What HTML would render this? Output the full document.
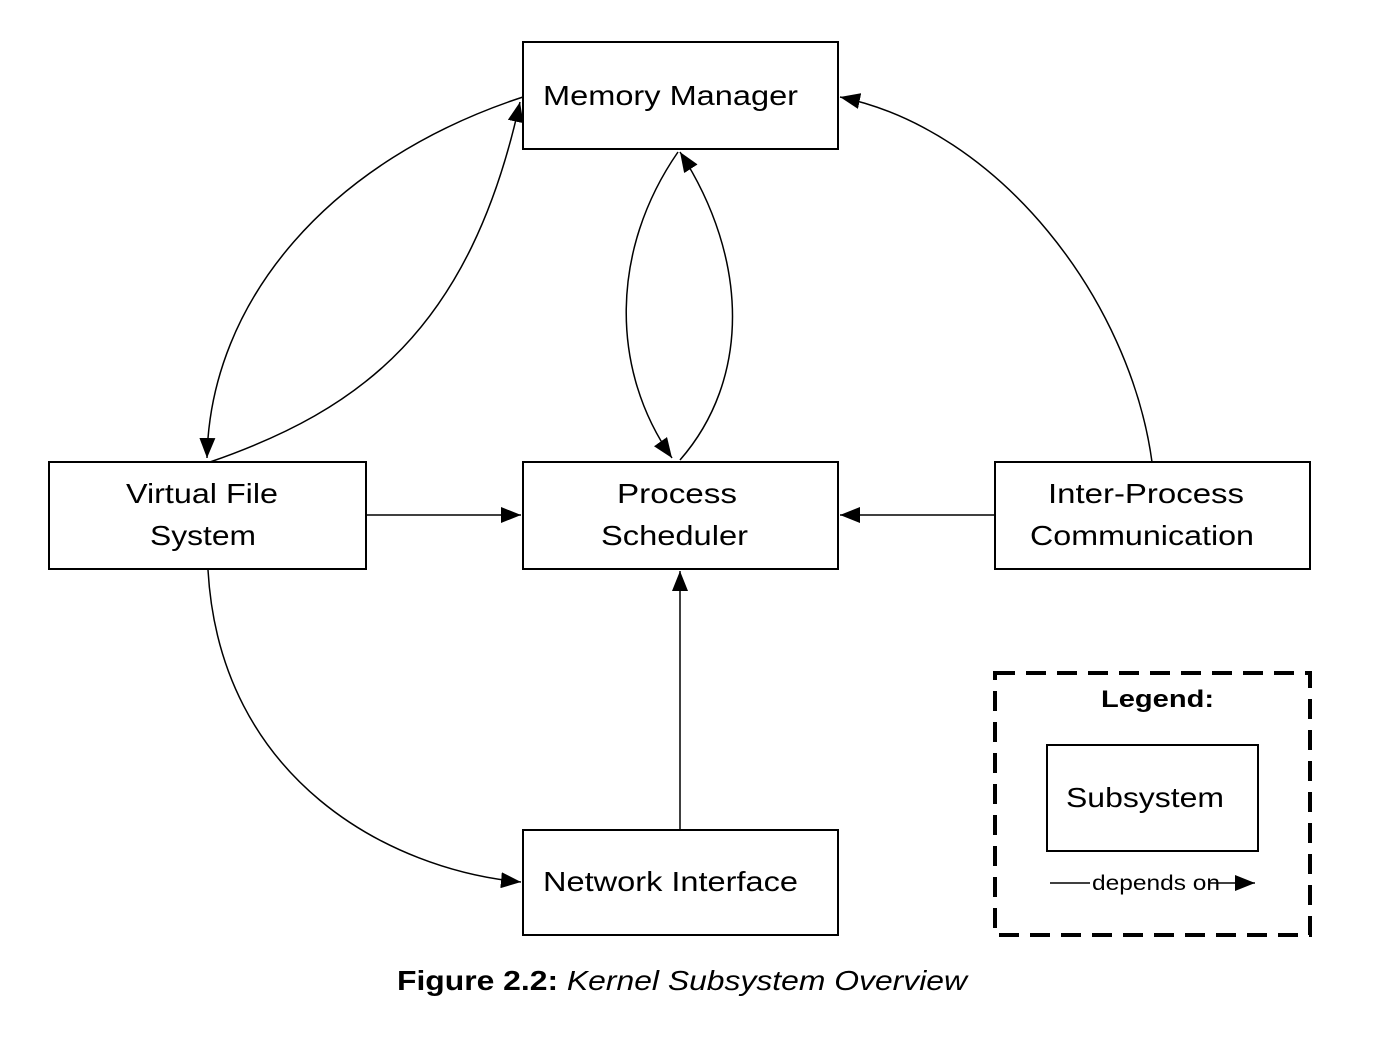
<!DOCTYPE html>
<html><head><meta charset="utf-8"><style>
html,body{margin:0;padding:0;background:#fff;}
svg{display:block;}
text{font-family:"Liberation Sans",sans-serif;}
</style></head><body>
<svg width="1392" height="1054" viewBox="0 0 1392 1054" xmlns="http://www.w3.org/2000/svg">
<defs>
<marker id="a" markerWidth="22" markerHeight="16" refX="20" refY="8" orient="auto" markerUnits="userSpaceOnUse">
<path d="M0,0 L20,8 L0,16 Z" fill="#000"/></marker>
</defs>
<g fill="#fff" stroke="#000" stroke-width="2">
<rect x="523" y="42" width="315" height="107"/>
<rect x="49" y="462" width="317" height="107"/>
<rect x="523" y="462" width="315" height="107"/>
<rect x="995" y="462" width="315" height="107"/>
<rect x="523" y="830" width="315" height="105"/>
</g>
<g fill="none" stroke="#000" stroke-width="1.5">
<path d="M523,97 C330,160 210,300 207,458" marker-end="url(#a)"/>
<path d="M210,462 C360,410 470,330 520,102" marker-end="url(#a)"/>
<path d="M678,152 C610,250 610,370 672,458" marker-end="url(#a)"/>
<path d="M680,460 C750,380 750,260 680,152" marker-end="url(#a)"/>
<path d="M1152,462 C1130,300 1000,130 840,97" marker-end="url(#a)"/>
<path d="M366,515 L521,515" marker-end="url(#a)"/>
<path d="M995,515 L840,515" marker-end="url(#a)"/>
<path d="M680,830 L680,571" marker-end="url(#a)"/>
<path d="M208,570 C220,780 390,870 521,882" marker-end="url(#a)"/>
</g>
<g font-size="28" fill="#000" lengthAdjust="spacingAndGlyphs">
<text x="543" y="105" textLength="255" lengthAdjust="spacingAndGlyphs">Memory Manager</text>
<text x="126" y="503" textLength="152" lengthAdjust="spacingAndGlyphs">Virtual File</text>
<text x="150" y="545" textLength="106" lengthAdjust="spacingAndGlyphs">System</text>
<text x="617" y="503" textLength="120" lengthAdjust="spacingAndGlyphs">Process</text>
<text x="601" y="545" textLength="147" lengthAdjust="spacingAndGlyphs">Scheduler</text>
<text x="1048" y="503" textLength="196" lengthAdjust="spacingAndGlyphs">Inter-Process</text>
<text x="1030" y="545" textLength="224" lengthAdjust="spacingAndGlyphs">Communication</text>
<text x="543" y="891" textLength="255" lengthAdjust="spacingAndGlyphs">Network Interface</text>
</g>
<rect x="995" y="673" width="315" height="262" fill="none" stroke="#000" stroke-width="4" stroke-dasharray="20,11"/>
<text x="1101" y="707" font-size="24" font-weight="bold" textLength="113" lengthAdjust="spacingAndGlyphs">Legend:</text>
<rect x="1047" y="745" width="211" height="106" fill="none" stroke="#000" stroke-width="2"/>
<text x="1066" y="807" font-size="28" textLength="158" lengthAdjust="spacingAndGlyphs">Subsystem</text>
<line x1="1050" y1="883" x2="1090" y2="883" stroke="#000" stroke-width="1.5"/>
<text x="1092" y="890" font-size="21" textLength="128" lengthAdjust="spacingAndGlyphs">depends on</text>
<line x1="1210" y1="883" x2="1255" y2="883" stroke="#000" stroke-width="1.5" marker-end="url(#a)"/>
<text x="397" y="990" font-size="28" textLength="570" lengthAdjust="spacingAndGlyphs"><tspan font-weight="bold">Figure 2.2:</tspan> <tspan font-style="italic">Kernel Subsystem Overview</tspan></text>
</svg>
</body></html>
